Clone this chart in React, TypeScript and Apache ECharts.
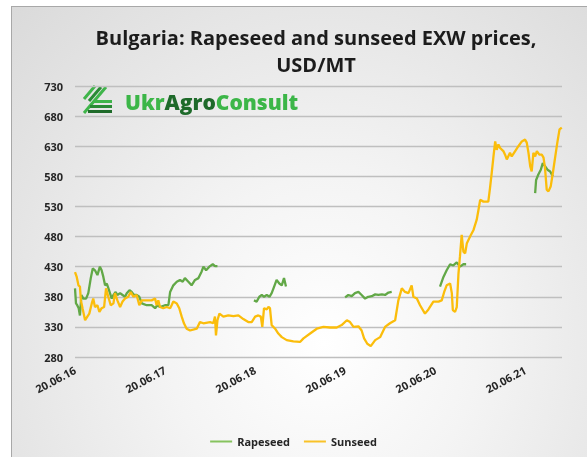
import React, { useEffect, useRef } from "react";
import * as echarts from "echarts";

// x values: days since 20.06.2016; y values: USD/MT
const tickLabels = ["20.06.16", "20.06.17", "20.06.18", "20.06.19", "20.06.20", "20.06.21"];
const DAYS_PER_YEAR = 365.25;
const yMin = 280;
const yMax = 730;
const yStep = 50;

const rapeseedData: [number, number | null][] = [
  [0, 394], [4, 369], [9, 366], [15, 361], [20, 349], [26, 383], [34, 377], [45, 377], [54, 386],
  [64, 411], [72, 427], [81, 424], [91, 416], [101, 430], [108, 424], [115, 413], [122, 399],
  [129, 402], [138, 391], [149, 377], [156, 383], [165, 388], [172, 383], [183, 386], [193, 383],
  [203, 380], [210, 386], [221, 391], [230, 388], [239, 383], [250, 383], [261, 380], [271, 369],
  [291, 366], [311, 366], [325, 361], [334, 366], [345, 363], [365, 366], [379, 366], [386, 388],
  [399, 399], [413, 405], [426, 408], [437, 405], [446, 411], [460, 405], [473, 399], [487, 408],
  [501, 411], [514, 422], [521, 430], [532, 424], [545, 430], [559, 434], [568, 431], [578, 431],
  [650, null],
  [726, 374], [737, 372], [748, 380], [758, 383], [767, 380], [778, 383], [789, 380], [798, 386],
  [808, 397], [818, 408], [829, 402], [839, 399], [848, 411], [856, 397],
  [980, null],
  [1096, 379], [1109, 383], [1123, 381], [1136, 386], [1150, 388], [1163, 383], [1177, 377],
  [1190, 380], [1204, 381], [1218, 384], [1231, 383], [1245, 384], [1258, 383], [1272, 387], [1285, 388],
  [1400, null],
  [1481, 397], [1495, 413], [1508, 424], [1522, 434], [1535, 432], [1549, 437], [1562, 430],
  [1576, 434], [1587, 434],
  [1700, null],
  [1867, 552], [1871, 574], [1880, 583], [1890, 591], [1898, 602], [1907, 597], [1917, 591],
  [1928, 588], [1939, 580],
];

const sunseedData: [number, number][] = [
  [0, 421], [7, 413], [14, 399], [20, 397], [24, 374], [31, 360], [41, 341], [50, 347], [58, 352],
  [68, 369], [74, 377], [81, 363], [91, 366], [99, 355], [108, 361], [118, 363], [126, 394],
  [135, 380], [145, 366], [156, 369], [162, 386], [172, 374], [183, 363], [193, 372], [203, 377],
  [216, 380], [226, 388], [237, 380], [250, 383], [261, 366], [271, 374], [291, 374], [311, 374],
  [325, 377], [331, 366], [338, 374], [345, 363], [358, 361], [372, 363], [386, 361], [392, 366],
  [399, 372], [413, 369], [423, 361], [433, 347], [442, 336], [453, 327], [467, 324], [494, 327],
  [507, 338], [521, 336], [548, 338], [561, 336], [568, 347], [572, 316], [578, 341], [586, 352],
  [602, 347], [622, 349], [643, 348], [663, 349], [683, 343], [703, 338], [717, 338], [731, 347],
  [744, 349], [754, 347], [760, 330], [767, 361], [778, 359], [785, 363], [791, 361], [798, 333],
  [812, 327], [825, 319], [839, 313], [859, 308], [886, 306], [913, 305], [927, 311], [954, 319],
  [981, 327], [1008, 330], [1035, 329], [1062, 329], [1082, 333], [1103, 341], [1116, 338],
  [1130, 330], [1150, 331], [1163, 324], [1173, 311], [1186, 302], [1200, 298], [1218, 308],
  [1238, 313], [1258, 330], [1278, 336], [1299, 341], [1312, 374], [1326, 394], [1339, 388],
  [1353, 386], [1366, 399], [1373, 380], [1387, 377], [1400, 366], [1420, 352], [1434, 359],
  [1454, 372], [1475, 372], [1488, 374], [1498, 388], [1508, 399], [1522, 402], [1529, 386],
  [1533, 358], [1542, 355], [1549, 363], [1556, 419], [1562, 447], [1569, 483], [1576, 455],
  [1583, 452], [1590, 469], [1603, 480], [1617, 491], [1630, 508], [1637, 524], [1644, 541],
  [1657, 538], [1677, 538], [1684, 561], [1691, 586], [1698, 613], [1705, 638], [1711, 624],
  [1718, 633], [1725, 627], [1738, 622], [1745, 616], [1752, 608], [1765, 619], [1772, 613],
  [1786, 622], [1799, 630], [1813, 638], [1826, 641], [1833, 636], [1840, 619], [1847, 597],
  [1853, 588], [1860, 619], [1867, 613], [1874, 622], [1884, 616], [1894, 616], [1901, 611],
  [1907, 594], [1914, 558], [1921, 555], [1930, 563], [1939, 586], [1948, 611], [1957, 636],
  [1966, 658], [1975, 661],
];

const GREEN = "#62a847";
const YELLOW = "#fbbd0b";
const FONT = "'Open Sans', 'Noto Sans', sans-serif";

export default function App() {
  const ref = useRef<HTMLDivElement>(null);

  useEffect(() => {
    if (!ref.current) return;
    const chart = echarts.init(ref.current, undefined, { renderer: "svg" });
    chart.setOption({
      animation: false,
      backgroundColor: "transparent",
      grid: { left: 75, right: 25, top: 86, bottom: 100, containLabel: false },
      graphic: [
        {
          type: "text",
          x: 316,
          y: 51,
          style: {
            text: "Bulgaria: Rapeseed and sunseed EXW prices,\nUSD/MT",
            font: `bold 20px ${FONT}`,
            fill: "#1c1c1c",
            textAlign: "center",
            textVerticalAlign: "middle",
            lineHeight: 27,
          },
        },
        {
          type: "group",
          x: 0,
          y: 0,
          children: [
            { type: "line", shape: { x1: 84, y1: 99, x2: 95, y2: 86 }, style: { stroke: "#3fb54a", lineWidth: 3 } },
            { type: "line", shape: { x1: 89, y1: 101, x2: 101, y2: 87 }, style: { stroke: "#2a8a35", lineWidth: 3 } },
            { type: "line", shape: { x1: 84, y1: 113, x2: 106, y2: 87 }, style: { stroke: "#3fb54a", lineWidth: 3 } },
            { type: "rect", shape: { x: 93, y: 100, width: 19, height: 3 }, style: { fill: "#3fb54a" } },
            { type: "rect", shape: { x: 90, y: 105, width: 22, height: 3 }, style: { fill: "#2a8a35" } },
            { type: "rect", shape: { x: 88, y: 110, width: 24, height: 3 }, style: { fill: "#1f6b2a" } },
          ],
        },
        {
          type: "text",
          x: 125,
          y: 102,
          style: {
            text: "{a|Ukr}{b|Agro}{a|Consult}",
            textVerticalAlign: "middle",
            rich: {
              a: { font: `800 21px ${FONT}`, fill: "#3cb648" },
              b: { font: `800 21px ${FONT}`, fill: "#1e6a2a" },
            },
          },
        },
      ],
      legend: {
        top: 431,
        left: "center",
        icon: "rect",
        itemWidth: 22,
        itemHeight: 2,
        itemGap: 14,
        data: [
          { name: "Rapeseed", itemStyle: { color: "#86c35e" } },
          { name: "Sunseed", itemStyle: { color: "#f9c228" } },
        ],
        textStyle: { fontFamily: FONT, fontWeight: "bold", fontSize: 11, color: "#262626" },
      },
      xAxis: {
        type: "value",
        min: 0,
        max: 1976,
        interval: DAYS_PER_YEAR,
        axisLine: { show: false },
        axisTick: { show: false },
        splitLine: { show: false },
        axisLabel: {
          rotate: 28,
          margin: 12,
          showMaxLabel: false,
          fontFamily: FONT,
          fontWeight: "bold",
          fontSize: 11,
          color: "#262626",
          formatter: (v: number) => {
            const k = Math.round(v / DAYS_PER_YEAR);
            if (Math.abs(v - k * DAYS_PER_YEAR) > 1 || k >= tickLabels.length) return "";
            return tickLabels[k];
          },
        },
      },
      yAxis: {
        type: "value",
        min: yMin,
        max: yMax,
        interval: yStep,
        axisLine: { show: false },
        axisTick: { show: false },
        splitLine: { lineStyle: { color: "#bfbfbf", width: 1.3 } },
        axisLabel: {
          margin: 12,
          fontFamily: FONT,
          fontWeight: "bold",
          fontSize: 11,
          color: "#262626",
        },
      },
      series: [
        {
          name: "Rapeseed",
          type: "line",
          showSymbol: false,
          connectNulls: false,
          color: GREEN,
          lineStyle: { color: GREEN, width: 2.3 },
          data: rapeseedData.map(([d, p]) => [d, p === null ? "-" : p]),
        },
        {
          name: "Sunseed",
          type: "line",
          showSymbol: false,
          color: YELLOW,
          lineStyle: { color: YELLOW, width: 2.3 },
          data: sunseedData,
        },
      ],
    });
    return () => chart.dispose();
  }, []);

  return (
    <>
      <div
        style={{
          position: "fixed",
          left: 11,
          top: 6,
          width: 600,
          height: 480,
          border: "1.5px solid #a8a8a8",
          background: "radial-gradient(ellipse at 52% 70%, #ffffff 0%, #f4f4f4 35%, #dadada 100%)",
        }}
      />
      <div ref={ref} style={{ position: "fixed", left: 0, top: 0, width: 587, height: 457 }} />
    </>
  );
}
